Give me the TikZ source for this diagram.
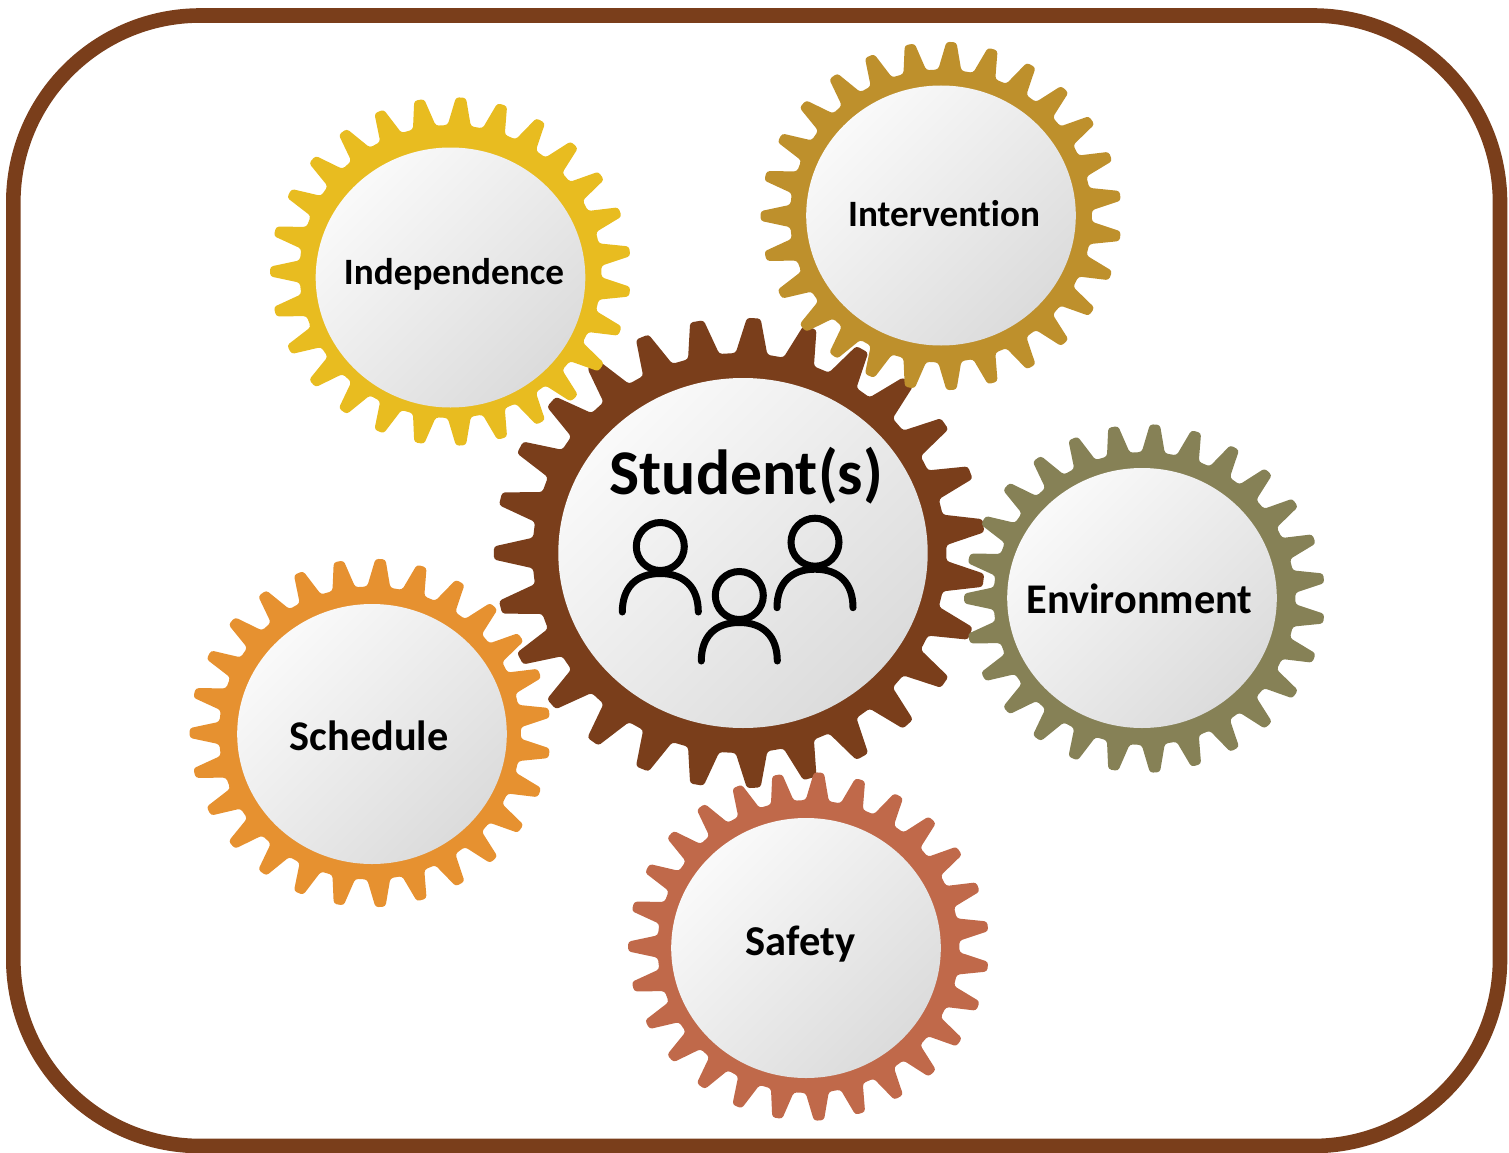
\documentclass[tikz,border=0pt]{standalone}
\usepackage{fontspec}
\setmainfont{Carlito}[Ligatures=NoCommon]
\definecolor{cbrown}{HTML}{7A3E1B}
\definecolor{cyellow}{HTML}{E8BC20}
\definecolor{cgold}{HTML}{BE902C}
\definecolor{colive}{HTML}{868156}
\definecolor{corange}{HTML}{E69130}
\definecolor{cterra}{HTML}{C0694A}
\definecolor{facedark}{HTML}{D6D6D6}
\pgfdeclareverticalshading{facev}{100bp}{color(0bp)=(facedark); color(16bp)=(facedark); color(84bp)=(white); color(100bp)=(white)}
\tikzset{
  facefill/.style={shading=facev,shading angle=45},
  label/.style={font=\bfseries\fontsize{#1}{#1}\selectfont,text=black,inner sep=0pt,anchor=center},
  person/.style={draw=black,line width=7pt,line cap=round},
  frame/.style={draw=cbrown,line width=14.6pt,rounded corners=187pt},
}
% ring centre x,y ; outer radii x,y ; root radii x,y ; colour
\newcommand{\gearring}[7]{%
  \fill[#7,rounded corners=3pt]
    ({#1+#5*cos(173.33)},{#2+#6*sin(173.33)})
    \foreach \k [evaluate=\k as \a using 180+\k*360/27] in {0,...,26}{
      -- ({#1+#5*cos(\a-4.4)},{#2+#6*sin(\a-4.4)})
      -- ({#1+#3*cos(\a-1.6)},{#2+#4*sin(\a-1.6)})
      -- ({#1+#3*cos(\a+1.6)},{#2+#4*sin(\a+1.6)})
      -- ({#1+#5*cos(\a+4.4)},{#2+#6*sin(\a+4.4)})
    } -- cycle;
}
\newcommand{\smallgear}[5]{% ring cx,cy ; face cx,cy ; colour
  \gearring{#1}{#2}{180.5}{174.3}{151}{146.5}{#5}
  \shade[facefill] (#3,#4) ellipse [x radius=134.8,y radius=130];
}
\newcommand{\personicon}[2]{%
  \draw[person] (#1,#2) circle [radius=24];
  \draw[person] (#1-38,#2+65.5) .. controls (#1-38,#2+41) and (#1-24,#2+27) .. (#1,#2+27)
     .. controls (#1+24,#2+27) and (#1+38,#2+41) .. (#1+38,#2+65.5);
}
\begin{document}
\begin{tikzpicture}[x=1pt,y=-1pt]
\useasboundingbox (0,0) rectangle (1509,1153);
\draw[frame] (13.3,15.5) rectangle (1500,1146);
% main gear
\gearring{739.5}{553}{245.7}{235.3}{207}{200}{cbrown}
\shade[facefill] (743,553) ellipse [x radius=184.7,y radius=175];
\personicon{660.3}{546.5}
\personicon{739.3}{595.5}
\personicon{815}{542.2}
\node[label=63.7] (student) at (746.3,476) {Student(s)};
% small gears
\smallgear{370}{733}{372}{734}{corange}
\smallgear{808.5}{946.5}{806}{948}{cterra}
\smallgear{1144.5}{598.5}{1142}{598}{colive}
\smallgear{450.5}{271.5}{450.5}{277.5}{cyellow}
\smallgear{941}{216}{941}{215.5}{cgold}
\node[label=37.2] (indep) at (454,274) {Independence};
\node[label=37.2] (interv) at (944,213.5) {Intervention};
\node[label=42.3] (env) at (1139.5,599) {Environment};
\node[label=42.3] (sched) at (369,736) {Schedule};
\node[label=42.5] (safety) at (800.5,944.5) {Safety};
\end{tikzpicture}
\end{document}
